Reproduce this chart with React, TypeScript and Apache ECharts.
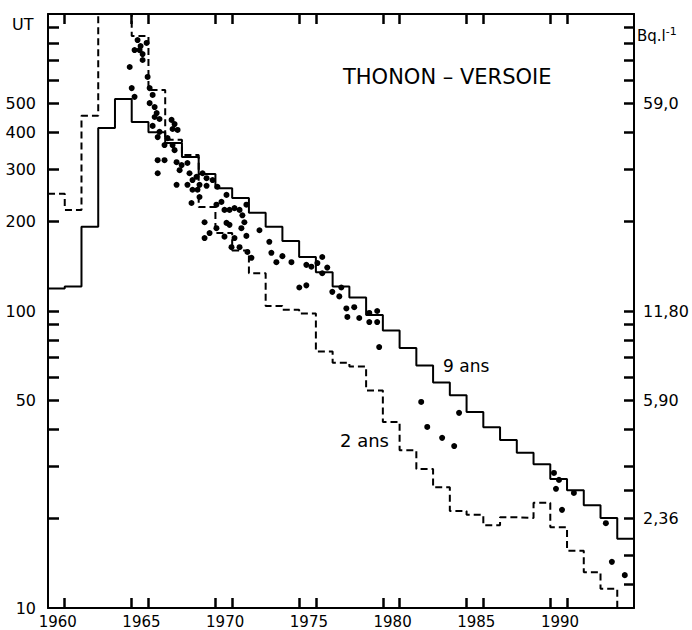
import React, { useEffect, useRef } from "react";
import * as echarts from "echarts";

// Model years (step starts) 1959..1993, plus end of last step 1994
const modelYears = [
  1959, 1960, 1961, 1962, 1963, 1964, 1965, 1966, 1967, 1968, 1969, 1970,
  1971, 1972, 1973, 1974, 1975, 1976, 1977, 1978, 1979, 1980, 1981, 1982,
  1983, 1984, 1985, 1986, 1987, 1988, 1989, 1990, 1991, 1992, 1993, 1994,
];

// "9 ans" model (UT), one value per year 1959..1993
const model9 = [
  119, 121, 192, 413, 517, 433, 400, 368, 330, 289, 259, 240, 214, 192, 172,
  152, 135, 121, 111, 97, 86, 75, 65.5, 57.5, 52, 45.7, 40.6, 36.8, 33.3, 30.5,
  27.2, 24.9, 22.2, 20.1, 17.1,
];

// "2 ans" model (UT), one value per year 1959..1993
const model2 = [
  248, 219, 454, 1500, 1200, 843, 555, 377, 335, 224, 183, 160, 134, 104, 101,
  98, 73, 67, 65, 54, 42.3, 34, 29.4, 25.5, 21.2, 20.6, 19.0, 20.2, 20.1, 22.6,
  18.7, 15.6, 13.2, 11.6, 9,
];

// Measurements
const measYear = [
  1963.88, 1964.0, 1964.17, 1964.35, 1964.89, 1964.17, 1964.47, 1964.65, 1964.65, 1964.53,
  1964.95, 1965.07, 1965.25, 1965.07, 1965.37, 1965.49, 1965.37, 1965.66, 1965.25, 1965.66,
  1965.55, 1966.38, 1966.56, 1966.44, 1966.74, 1966.14, 1965.96, 1966.44, 1966.56, 1965.55,
  1965.96, 1966.68, 1966.98, 1967.33, 1965.55, 1966.86, 1967.45, 1967.63, 1967.87, 1968.23,
  1968.47, 1968.83, 1966.68, 1967.33, 1968.05, 1967.63, 1967.93, 1968.47, 1969.12, 1968.05,
  1967.57, 1969.66, 1969.36, 1969.06, 1969.54, 1969.84, 1970.14, 1970.44, 1970.85, 1970.61,
  1969.66, 1969.84, 1970.73, 1970.55, 1968.35, 1971.63, 1968.65, 1969.06, 1969.54, 1970.14,
  1970.85, 1968.35, 1969.96, 1970.44, 1970.91, 1971.15, 1972.22, 1972.34, 1973.0, 1972.64,
  1973.54, 1974.43, 1974.73, 1975.09, 1975.38, 1975.68, 1975.38, 1974.01, 1974.43, 1975.98,
  1976.52, 1976.4, 1976.82, 1977.29, 1976.88, 1977.59, 1978.19, 1978.66, 1978.19, 1978.66,
  1978.78, 1981.29, 1983.55, 1981.65, 1982.54, 1983.26, 1989.22, 1989.52, 1989.34, 1990.41,
  1989.7, 1992.32, 1992.68, 1993.45,
];
const measValue = [
  663, 563, 526, 817, 799, 756, 756, 733, 700, 780,
  614, 563, 534, 501, 486, 464, 450, 443, 420, 401,
  385, 440, 426, 410, 407, 382, 362, 362, 348, 322,
  322, 317, 310, 315, 291, 298, 291, 276, 283, 291,
  280, 276, 266, 266, 266, 256, 256, 264, 262, 242,
  231, 246, 233, 228, 219, 219, 222, 219, 228, 210,
  198, 195, 199, 190, 199, 187, 183, 190, 178, 176,
  179, 176, 164, 164, 158, 151, 171, 157, 153, 146,
  146, 143, 141, 145, 152, 140, 134, 120, 122, 116,
  120, 112, 102, 103, 95.5, 94.7, 98.5, 100, 91.8, 91.8,
  75.6, 49.4, 45.4, 40.7, 37.4, 35.1, 28.5, 27.0, 25.2, 24.4,
  21.4, 19.3, 14.3, 12.9,
];

// Axis ticks / labels
const xLabelYears = [1960, 1965, 1970, 1975, 1980, 1985, 1990];
const xTickYears = [1960, 1964, 1965, 1969, 1970, 1974, 1975, 1979, 1980, 1984, 1985, 1989, 1990];
const yTicksLeft = [20, 30, 40, 50, 60, 70, 80, 90, 100, 200, 300, 400, 500, 600, 700, 800, 900];
const yTicksRight = [12, 15, 20, 25, 30, 40, 50, 60, 70, 80, 90, 100, 200, 300, 400, 500, 600, 700, 800, 900];
const yLabelsLeft = [10, 50, 100, 200, 300, 400, 500];
const yLabelsRight = [20, 50, 100, 500];
const rightLabelText: Record<number, string> = { 20: "2,36", 50: "5,90", 100: "11,80", 500: "59,0" };

const FONT = "DejaVu Sans";

export default function App() {
  const ref = useRef<HTMLDivElement>(null);
  useEffect(() => {
    if (!ref.current) return;
    const chart = echarts.init(ref.current, undefined, { renderer: "svg" });
    const stepData = (vals: number[]) =>
      modelYears.map((y, i) => [y, vals[Math.min(i, vals.length - 1)]]);
    const tick = (values: number[], length: number) => ({
      show: true,
      inside: true,
      length,
      lineStyle: { color: "#000", width: 2.5 },
      customValues: values,
    });
    const axisLine = () => ({ show: true, lineStyle: { color: "#000", width: 2 } });

    chart.setOption({
      animation: false,
      backgroundColor: "#fff",
      grid: { left: 48, right: 58, top: 14, bottom: 22, containLabel: false },
      xAxis: [
        {
          type: "value",
          min: 1959,
          max: 1994,
          position: "bottom",
          axisLine: axisLine(),
          splitLine: { show: false },
          axisTick: tick(xTickYears, 10),
          axisLabel: {
            customValues: xLabelYears,
            color: "#000",
            fontFamily: FONT,
            fontSize: 15,
            margin: 6,
            padding: [0, 14, 0, 0],
            formatter: (v: number) => String(Math.round(v)),
          },
        },
        {
          type: "value",
          min: 1959,
          max: 1994,
          position: "top",
          axisLine: axisLine(),
          splitLine: { show: false },
          axisTick: tick(xTickYears, 10),
          axisLabel: { show: false },
        },
      ],
      yAxis: [
        {
          type: "log",
          logBase: 10,
          min: 10,
          max: 1000,
          position: "left",
          axisLine: axisLine(),
          splitLine: { show: false },
          minorTick: { show: false },
          axisTick: tick(yTicksLeft, 11),
          axisLabel: {
            customValues: yLabelsLeft,
            color: "#000",
            fontFamily: FONT,
            fontSize: 16,
            margin: 12,
            formatter: (v: number) => String(Math.round(v)),
          },
        },
        {
          type: "log",
          logBase: 10,
          min: 10,
          max: 1000,
          position: "right",
          axisLine: axisLine(),
          splitLine: { show: false },
          minorTick: { show: false },
          axisTick: tick(yTicksRight, 10),
          axisLabel: {
            customValues: yLabelsRight,
            color: "#000",
            fontFamily: FONT,
            fontSize: 16,
            margin: 9,
            formatter: (v: number) => rightLabelText[Math.round(v)] ?? "",
          },
        },
      ],
      series: [
        {
          name: "9 ans",
          type: "line",
          step: "end",
          data: stepData(model9),
          showSymbol: false,
          symbol: "none",
          clip: true,
          lineStyle: { color: "#000", width: 2 },
          z: 2,
        },
        {
          name: "2 ans",
          type: "line",
          step: "end",
          data: stepData(model2),
          showSymbol: false,
          symbol: "none",
          clip: true,
          lineStyle: { color: "#000", width: 2, type: [7, 4] },
          z: 2,
        },
        {
          name: "mesures",
          type: "scatter",
          data: measYear.map((y, i) => [y, measValue[i]]),
          symbol: "circle",
          symbolSize: 6,
          itemStyle: { color: "#000", opacity: 1 },
          z: 3,
        },
      ],
      graphic: [
        {
          type: "text",
          left: 12,
          top: 16,
          style: { text: "UT", fill: "#000", font: `16px "${FONT}"` },
        },
        {
          type: "text",
          left: 637,
          top: 26,
          style: {
            text: "Bq.l{sup|-1}",
            fill: "#000",
            font: `15px "${FONT}"`,
            rich: { sup: { fontSize: 11, fontFamily: FONT, verticalAlign: "top", padding: [0, 0, 8, 0] } },
          },
        },
        {
          type: "text",
          left: 343,
          top: 66,
          style: { text: "THONON – VERSOIE", fill: "#000", font: `21px "${FONT}"` },
        },
        {
          type: "text",
          left: 443,
          top: 357,
          style: { text: "9 ans", fill: "#000", font: `17px "${FONT}"` },
        },
        {
          type: "text",
          left: 340,
          top: 431,
          style: { text: "2 ans", fill: "#000", font: `18px "${FONT}"` },
        },
      ],
    });
    return () => chart.dispose();
  }, []);
  return (
    <div
      ref={ref}
      style={{ position: "absolute", left: 0, top: 0, width: 692, height: 630, background: "#fff" }}
    />
  );
}
